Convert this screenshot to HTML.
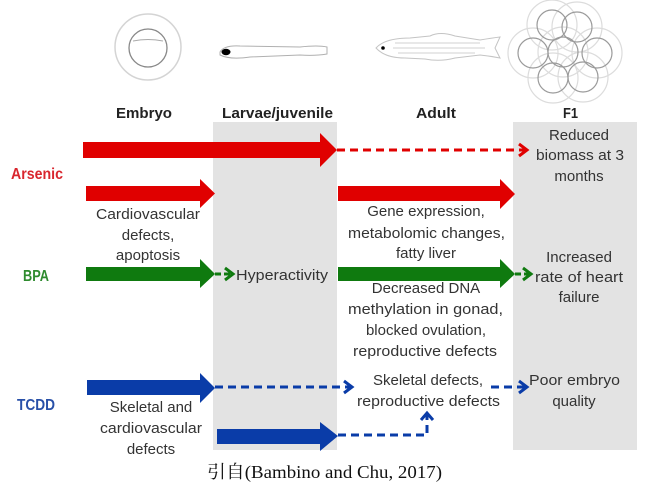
<!DOCTYPE html>
<html><head><meta charset="utf-8"><style>
html,body{margin:0;padding:0;background:#fff;}
svg{display:block;}
.t{font-family:"Liberation Sans",sans-serif;font-size:15px;fill:#333;text-anchor:middle;}
.h{font-family:"Liberation Sans",sans-serif;font-size:15px;font-weight:bold;fill:#222;text-anchor:middle;}
.l{font-family:"Liberation Sans",sans-serif;font-size:15.5px;font-weight:bold;}
</style></head><body>
<svg width="650" height="487" viewBox="0 0 650 487" xmlns="http://www.w3.org/2000/svg">
<rect x="0" y="0" width="650" height="487" fill="#fff"/>
<!-- gray columns -->
<rect x="213" y="122" width="124" height="328" fill="#e3e3e3"/>
<rect x="513" y="122" width="124" height="328" fill="#e3e3e3"/>

<!-- icons -->
<g fill="none">
  <circle cx="148" cy="47" r="33" stroke="#d4d4d4" stroke-width="1.5"/>
  <circle cx="148" cy="48" r="19" stroke="#888" stroke-width="1.3"/>
  <path d="M133 41 Q148 38 163 41" stroke="#aaa" stroke-width="1"/>
  <!-- larva -->
  <path d="M220 52 Q224 45 240 46 L300 47 Q318 45 327 47 L327 54 Q315 56 300 55 L250 57 Q230 60 220 55 Z" stroke="#b0b0b0" stroke-width="1"/>
  <!-- adult fish -->
  <path d="M376 48 Q385 38 410 38 L430 36 Q440 31 455 36 L480 40 Q492 38 500 37 L495 48 L500 58 Q490 56 480 55 L455 58 Q440 62 425 59 L405 58 Q385 58 376 48 Z" stroke="#c4c4c4" stroke-width="1"/>
  <path d="M395 43 L480 43 M393 48 L485 48 M398 53 L475 53" stroke="#d0d0d0" stroke-width="1"/>
  <!-- F1 eggs -->
  <g stroke="#dcdcdc" stroke-width="1.2">
    <circle cx="552" cy="25" r="25"/><circle cx="577" cy="27" r="25"/>
    <circle cx="533" cy="53" r="25"/><circle cx="563" cy="52" r="25"/><circle cx="597" cy="53" r="25"/>
    <circle cx="553" cy="78" r="25"/><circle cx="583" cy="77" r="25"/>
  </g>
  <g stroke="#9a9a9a" stroke-width="1.2">
    <circle cx="552" cy="25" r="15"/><circle cx="577" cy="27" r="15"/>
    <circle cx="533" cy="53" r="15"/><circle cx="563" cy="52" r="15"/><circle cx="597" cy="53" r="15"/>
    <circle cx="553" cy="78" r="15"/><circle cx="583" cy="77" r="15"/>
  </g>
</g>
<ellipse cx="226" cy="52" rx="4.5" ry="3.2" fill="#000"/>
<circle cx="383" cy="48" r="1.8" fill="#000"/>

<!-- headers -->
<text class="h" x="144" y="118" textLength="56" lengthAdjust="spacingAndGlyphs">Embryo</text>
<text class="h" x="277.5" y="118" textLength="111" lengthAdjust="spacingAndGlyphs">Larvae/juvenile</text>
<text class="h" x="436" y="118" textLength="40" lengthAdjust="spacingAndGlyphs">Adult</text>
<text class="h" x="570.5" y="118" textLength="15" lengthAdjust="spacingAndGlyphs">F1</text>

<!-- row labels -->
<text class="l" x="11" y="179" fill="#d9262e" textLength="52" lengthAdjust="spacingAndGlyphs">Arsenic</text>
<text class="l" x="23" y="281" fill="#2e8b2e" textLength="26" lengthAdjust="spacingAndGlyphs">BPA</text>
<text class="l" x="17" y="410" fill="#2850a8" textLength="38" lengthAdjust="spacingAndGlyphs">TCDD</text>

<!-- solid arrows -->
<polygon fill="#e00000" points="83,142 320,142 320,133 337,150 320,167 320,158 83,158"/>
<polygon fill="#e00000" points="86,186 200,186 200,179 215,193.5 200,208 200,201 86,201"/>
<polygon fill="#e00000" points="338,186 500,186 500,179 515,194 500,209 500,201 338,201"/>
<polygon fill="#0f7a0f" points="86,267 200,267 200,259 215,274 200,288 200,281 86,281"/>
<polygon fill="#0f7a0f" points="338,267 500,267 500,259 515,274 500,288 500,281 338,281"/>
<polygon fill="#0a3ca8" points="87,380 200,380 200,373 215,388 200,403 200,395 87,395"/>
<polygon fill="#0a3ca8" points="217,429 320,429 320,422 338,436 320,451 320,444 217,444"/>

<!-- dashed connectors -->
<g fill="none" stroke-width="3">
  <line x1="337" y1="150" x2="525" y2="150" stroke="#e00000" stroke-dasharray="8,5"/>
  <polyline points="519,144 527,150 519,156" stroke="#e00000"/>
  <line x1="215" y1="274" x2="231" y2="274" stroke="#0f7a0f" stroke-dasharray="6,3"/>
  <polyline points="225,268 233,274 225,280" stroke="#0f7a0f"/>
  <line x1="515" y1="274" x2="529" y2="274" stroke="#0f7a0f" stroke-dasharray="6,3"/>
  <polyline points="523,268 531,274 523,280" stroke="#0f7a0f"/>
  <line x1="215" y1="387" x2="350" y2="387" stroke="#0a3ca8" stroke-dasharray="8,5"/>
  <polyline points="344,381 352,387 344,393" stroke="#0a3ca8"/>
  <line x1="491" y1="387" x2="525" y2="387" stroke="#0a3ca8" stroke-dasharray="8,5"/>
  <polyline points="519,381 527,387 519,393" stroke="#0a3ca8"/>
  <polyline points="338,435 427,435 427,415" stroke="#0a3ca8" stroke-dasharray="8,5"/>
  <polyline points="421,420 427,413 433,420" stroke="#0a3ca8"/>
</g>

<!-- body texts -->
<text class="t" x="579" y="140">Reduced</text>
<text class="t" x="580" y="160" textLength="88" lengthAdjust="spacingAndGlyphs">biomass at 3</text>
<text class="t" x="579" y="181">months</text>

<text class="t" x="148" y="219" textLength="104" lengthAdjust="spacingAndGlyphs">Cardiovascular</text>
<text class="t" x="148" y="240">defects,</text>
<text class="t" x="148" y="260">apoptosis</text>

<text class="t" x="282" y="280" textLength="92" lengthAdjust="spacingAndGlyphs">Hyperactivity</text>

<text class="t" x="426" y="216">Gene expression,</text>
<text class="t" x="426.5" y="238" textLength="157" lengthAdjust="spacingAndGlyphs">metabolomic changes,</text>
<text class="t" x="426" y="258">fatty liver</text>

<text class="t" x="579" y="262">Increased</text>
<text class="t" x="579" y="282" textLength="88" lengthAdjust="spacingAndGlyphs">rate of heart</text>
<text class="t" x="579" y="302">failure</text>

<text class="t" x="426" y="293">Decreased DNA</text>
<text class="t" x="425.5" y="314" textLength="155" lengthAdjust="spacingAndGlyphs">methylation in gonad,</text>
<text class="t" x="426" y="335">blocked ovulation,</text>
<text class="t" x="425" y="356" textLength="144" lengthAdjust="spacingAndGlyphs">reproductive defects</text>

<text class="t" x="428" y="385">Skeletal defects,</text>
<text class="t" x="428.5" y="406" textLength="143" lengthAdjust="spacingAndGlyphs">reproductive defects</text>

<text class="t" x="574.5" y="385" textLength="91" lengthAdjust="spacingAndGlyphs">Poor embryo</text>
<text class="t" x="574" y="406">quality</text>

<text class="t" x="151" y="412">Skeletal and</text>
<text class="t" x="151" y="433" textLength="102" lengthAdjust="spacingAndGlyphs">cardiovascular</text>
<text class="t" x="151" y="454">defects</text>

<!-- caption -->
<text x="207" y="478" font-family="'Liberation Serif','Noto Serif CJK SC',serif" font-size="18" fill="#111" textLength="235" lengthAdjust="spacingAndGlyphs">引自(Bambino and Chu, 2017)</text>
</svg>
</body></html>
